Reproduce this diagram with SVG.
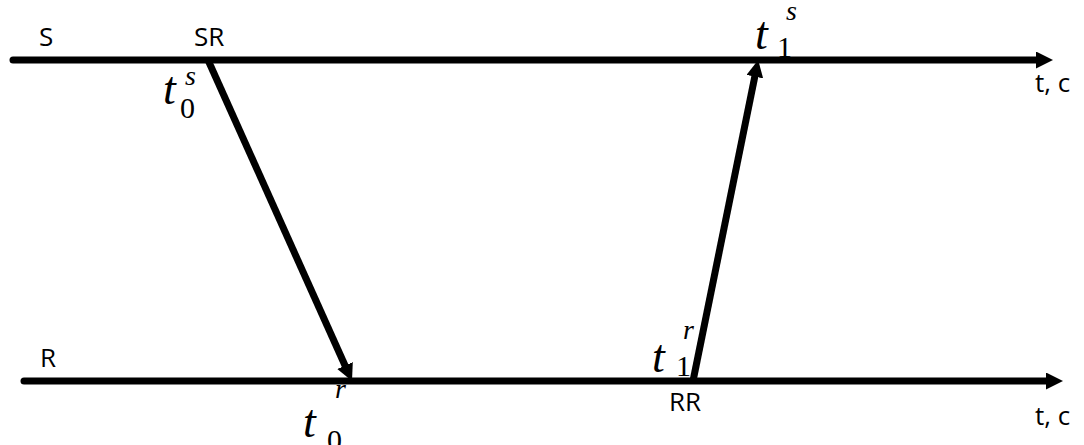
<svg xmlns="http://www.w3.org/2000/svg" width="1084" height="445" viewBox="0 0 1084 445">
<style>
.lbl{font-family:"Open Sans","Liberation Sans",sans-serif;font-size:26px;fill:#000}
.mt{font-family:"Liberation Serif",serif;font-style:italic;font-size:46px;fill:#000}
.ms{font-family:"Liberation Serif",serif;font-style:italic;font-size:28px;fill:#000}
.mn{font-family:"Liberation Serif",serif;font-size:30px;fill:#000}
.ln{stroke:#000;stroke-width:7;fill:none}
</style>
<defs>
<marker id="ah" markerUnits="userSpaceOnUse" markerWidth="19" markerHeight="18" refX="6" refY="8.5" orient="auto">
<path d="M0,0 L17,8.5 L0,17 Z" fill="#000"/>
</marker>
</defs>
<rect width="1084" height="445" fill="#fff"/>
<g id="connectors">
<line class="ln" x1="13" y1="60" x2="1042" y2="60" stroke-linecap="round" marker-end="url(#ah)"/>
<line class="ln" x1="24" y1="381" x2="1052" y2="381" stroke-linecap="round" marker-end="url(#ah)"/>
<line class="ln" x1="208" y1="60" x2="347.5" y2="371" marker-end="url(#ah)"/>
<line class="ln" x1="693" y1="381" x2="756" y2="70.8" marker-end="url(#ah)"/>
</g>
<g id="S"><text class="lbl" x="39" y="46">S</text></g>
<g id="SR"><text class="lbl" x="194" y="46">SR</text></g>
<g id="tc-top"><text class="lbl" x="1035" y="92">t, c</text></g>
<g id="R"><text class="lbl" x="40" y="367">R</text></g>
<g id="RR"><text class="lbl" x="669" y="411">RR</text></g>
<g id="tc-bottom"><text class="lbl" x="1035" y="425">t, c</text></g>
<g id="t0s"><text class="mt" x="163" y="104">t</text><text class="ms" x="185" y="85">s</text><text class="mn" x="180" y="118">0</text></g>
<g id="t1s"><text class="mt" x="755" y="49">t</text><text class="ms" x="786" y="20">s</text><text class="mn" x="777" y="57">1</text></g>
<g id="t0r"><text class="mt" x="303" y="437">t</text><text class="ms" x="335" y="398">r</text><text class="mn" x="327" y="450">0</text></g>
<g id="t1r"><text class="mt" x="652" y="372">t</text><text class="ms" x="683" y="339">r</text><text class="mn" x="676" y="376">1</text></g>
</svg>
